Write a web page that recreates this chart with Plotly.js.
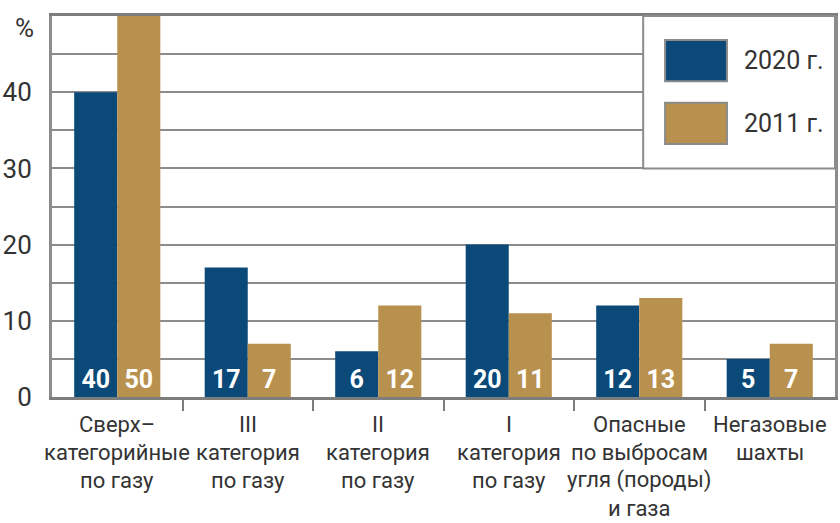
<!DOCTYPE html>
<html><head><meta charset="utf-8">
<script src="https://cdn.plot.ly/plotly-3.0.1.min.js"></script>
<style>html,body{margin:0;padding:0;background:#fff}#chart{width:840px;height:523px}</style>
</head><body><div id="chart"></div>
<script>
const categories = [
  'Сверх–<br>категорийные<br>по газу',
  'III<br>категория<br>по газу',
  'II<br>категория<br>по газу',
  'I<br>категория<br>по газу',
  'Опасные<br>по выбросам<br>угля (породы)<br>и газа',
  'Негазовые<br>шахты'
];
const seriesNames = ['2020 г.', '2011 г.'];
const values2020 = [40, 17, 6, 20, 12, 5];
const values2011 = [50, 7, 12, 11, 13, 7];
const seriesColors = ['#0b4a78', '#b9914f'];
const yTickVals = [0, 10, 20, 30, 40];
const yUnit = '%';

const FONT = 'Roboto, "Liberation Sans", sans-serif';
const TXT = '#333333';
const GRID = '#8c8c8c';
const idx = categories.map((_, i) => i);
const series = [values2020, values2011];

const traces = series.map((vals, s) => ({
  type: 'bar',
  x: idx,
  y: vals,
  name: seriesNames[s],
  marker: {color: seriesColors[s], line: {width: 0}},
  text: vals.map(String),
  textposition: 'inside',
  insidetextanchor: 'start',
  textangle: 0,
  constraintext: 'none',
  textfont: {family: FONT, size: 25, color: '#ffffff', weight: 'bold'},
  hoverinfo: 'skip'
}));

const annotations = [];
categories.forEach((c, i) => {
  c.split('<br>').forEach((line, j) => {
    annotations.push({
      x: i, xref: 'x', y: 0, yref: 'paper', yanchor: 'middle', xanchor: 'center',
      yshift: -(27 + 28 * j), text: line, showarrow: false,
      font: {family: FONT, size: 22, color: TXT}
    });
  });
});
annotations.push({
  x: -0.0345, xref: 'paper', y: 0.969, yref: 'paper', xanchor: 'center', yanchor: 'middle',
  text: yUnit, showarrow: false, font: {family: FONT, size: 26, color: TXT}
});

const legendY = [[0.829, 0.937], [0.664, 0.772]];
const shapes = [{
  type: 'rect', xref: 'paper', yref: 'paper', x0: 0.755, x1: 1, y0: 0.6, y1: 1,
  fillcolor: '#ffffff', line: {color: GRID, width: 2}, layer: 'above'
}];
seriesNames.forEach((n, s) => {
  shapes.push({
    type: 'rect', xref: 'paper', yref: 'paper', x0: 0.783, x1: 0.862,
    y0: legendY[s][0], y1: legendY[s][1],
    fillcolor: seriesColors[s], line: {color: '#8a8a8a', width: 2}, layer: 'above'
  });
  annotations.push({
    x: 0.881, xref: 'paper', y: (legendY[s][0] + legendY[s][1]) / 2, yref: 'paper',
    xanchor: 'left', yanchor: 'middle', text: n, showarrow: false,
    font: {family: FONT, size: 25, color: TXT}
  });
});

const layout = {
  width: 840, height: 523,
  margin: {l: 52, r: 5, t: 16, b: 126, pad: 0},
  paper_bgcolor: '#ffffff', plot_bgcolor: '#ffffff',
  barmode: 'group', bargap: 0.34, bargroupgap: 0,
  showlegend: false,
  font: {family: FONT, color: TXT},
  xaxis: {
    range: [-0.5, categories.length - 0.5],
    tickvals: idx, ticktext: idx.map(() => ''), ticks: '',
    showgrid: false, zeroline: false,
    showline: true, linecolor: '#7d7d7d', linewidth: 3, mirror: true,
    minor: {tickvals: idx.slice(1).map(i => i - 0.5), ticks: 'outside', ticklen: 11, tickwidth: 2, tickcolor: '#7d7d7d', showgrid: false}
  },
  yaxis: {
    range: [0, 50], tickvals: yTickVals, ticktext: yTickVals.map(String), ticks: '',
    ticklabelstandoff: 12,
    tickfont: {family: FONT, size: 26, color: TXT},
    showgrid: true, gridcolor: GRID, gridwidth: 2, zeroline: false,
    showline: true, linecolor: GRID, linewidth: 3, mirror: true,
    minor: {dtick: 5, showgrid: true, gridcolor: GRID, gridwidth: 2}
  },
  shapes: shapes,
  annotations: annotations
};

Plotly.newPlot('chart', traces, layout, {staticPlot: true, displayModeBar: false});
</script>
</body></html>
